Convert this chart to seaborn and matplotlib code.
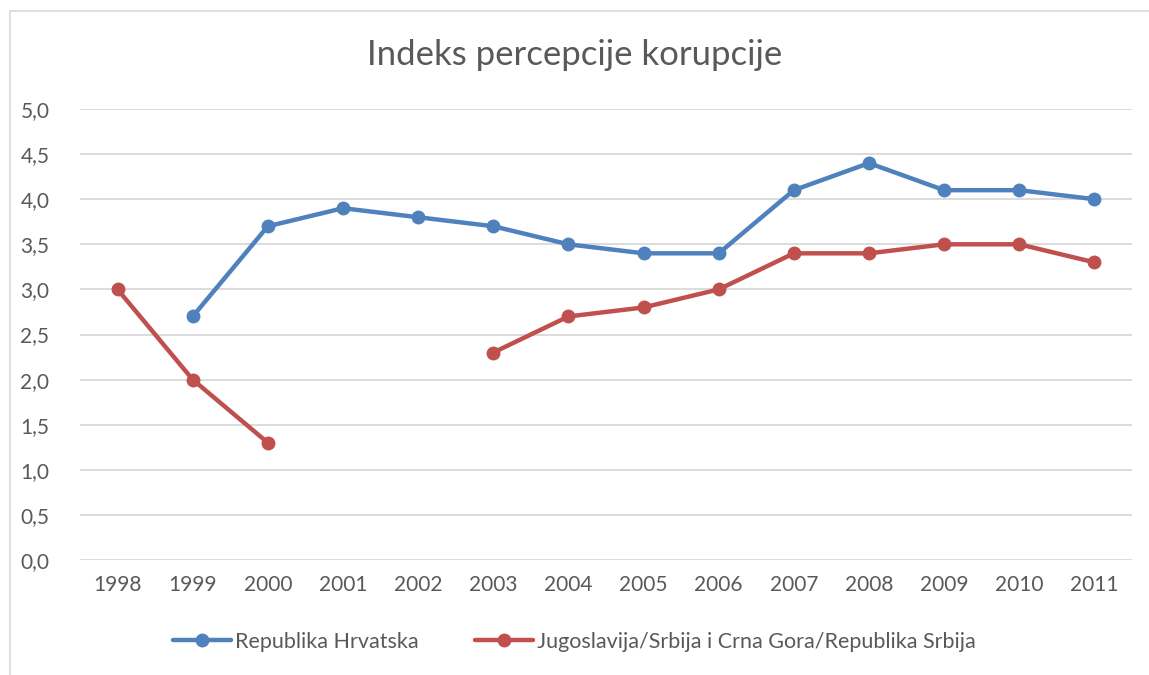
import numpy as np
import pandas as pd
import matplotlib
matplotlib.use("Agg")
import matplotlib.pyplot as plt
import seaborn as sns
from matplotlib.lines import Line2D

years = [1998, 1999, 2000, 2001, 2002, 2003, 2004, 2005, 2006, 2007, 2008, 2009, 2010, 2011]
hrvatska = [np.nan, 2.7, 3.7, 3.9, 3.8, 3.7, 3.5, 3.4, 3.4, 4.1, 4.4, 4.1, 4.1, 4.0]
srbija = [3.0, 2.0, 1.3, np.nan, np.nan, 2.3, 2.7, 2.8, 3.0, 3.4, 3.4, 3.5, 3.5, 3.3]
series_names = ["Republika Hrvatska", "Jugoslavija/Srbija i Crna Gora/Republika Srbija"]
colors = ["#4F81BD", "#C0504D"]
yticks = [0.0, 0.5, 1.0, 1.5, 2.0, 2.5, 3.0, 3.5, 4.0, 4.5, 5.0]

sns.set_theme(style="white")
plt.rcParams["font.family"] = ["Lato", "DejaVu Sans"]
text_col = "#595959"

# long table, with a segment id so gaps stay as gaps
rows = []
for name, vals in zip(series_names, [hrvatska, srbija]):
    seg = 0
    for i, v in enumerate(vals):
        if np.isnan(v):
            seg += 1
            continue
        rows.append({"pos": i, "value": v, "series": name, "seg": f"{name}_{seg}"})
df = pd.DataFrame(rows)

fig = plt.figure(figsize=(11.49, 6.75), dpi=100)
ax = fig.add_axes([80 / 1149, 1 - 560 / 675, 1052 / 1149, 451 / 675])

sns.lineplot(data=df, x="pos", y="value", hue="series", units="seg", estimator=None,
             palette=dict(zip(series_names, colors)), marker="o", markersize=10,
             markeredgewidth=0, linewidth=3.2, ax=ax, legend=False)

ax.set_xlim(-0.5, len(years) - 0.5)
ax.set_ylim(0, 5)
ax.set_xticks(range(len(years)))
ax.set_xticklabels([str(y) for y in years])
ax.set_yticks(yticks)
ax.set_yticklabels([f"{t:.1f}".replace(".", ",") for t in yticks])
ax.tick_params(axis="both", length=0, labelsize=15, colors=text_col)
ax.tick_params(axis="x", pad=11)
ax.tick_params(axis="y", pad=22)
ax.set_xlabel("")
ax.set_ylabel("")
ax.grid(axis="y", color="#D9D9D9", linewidth=1.3)
ax.set_axisbelow(True)
for s in ax.spines.values():
    s.set_visible(False)

fig.text(0.5, 1 - 55 / 675, "Indeks percepcije korupcije", ha="center", va="center",
         fontsize=25, color=text_col)

handles = [Line2D([0], [0], color=c, linewidth=3.2, marker="o", markersize=10, markeredgewidth=0)
           for c in colors]
fig.legend(handles, series_names, loc="center", bbox_to_anchor=(0.5, 1 - 642 / 675),
           ncol=2, frameon=False, fontsize=15.5, labelcolor=text_col,
           handlelength=2.7, columnspacing=2.6, handletextpad=0.2)

# chart border (left and top visible in the reference)
fig.add_artist(Line2D([10 / 1149, 10 / 1149], [0, 1 - 11 / 675], transform=fig.transFigure,
                      color="#D9D9D9", linewidth=1.2))
fig.add_artist(Line2D([10 / 1149, 1], [1 - 11 / 675, 1 - 11 / 675], transform=fig.transFigure,
                      color="#D9D9D9", linewidth=1.2))

fig.savefig("out.png", dpi=100, facecolor="white")
